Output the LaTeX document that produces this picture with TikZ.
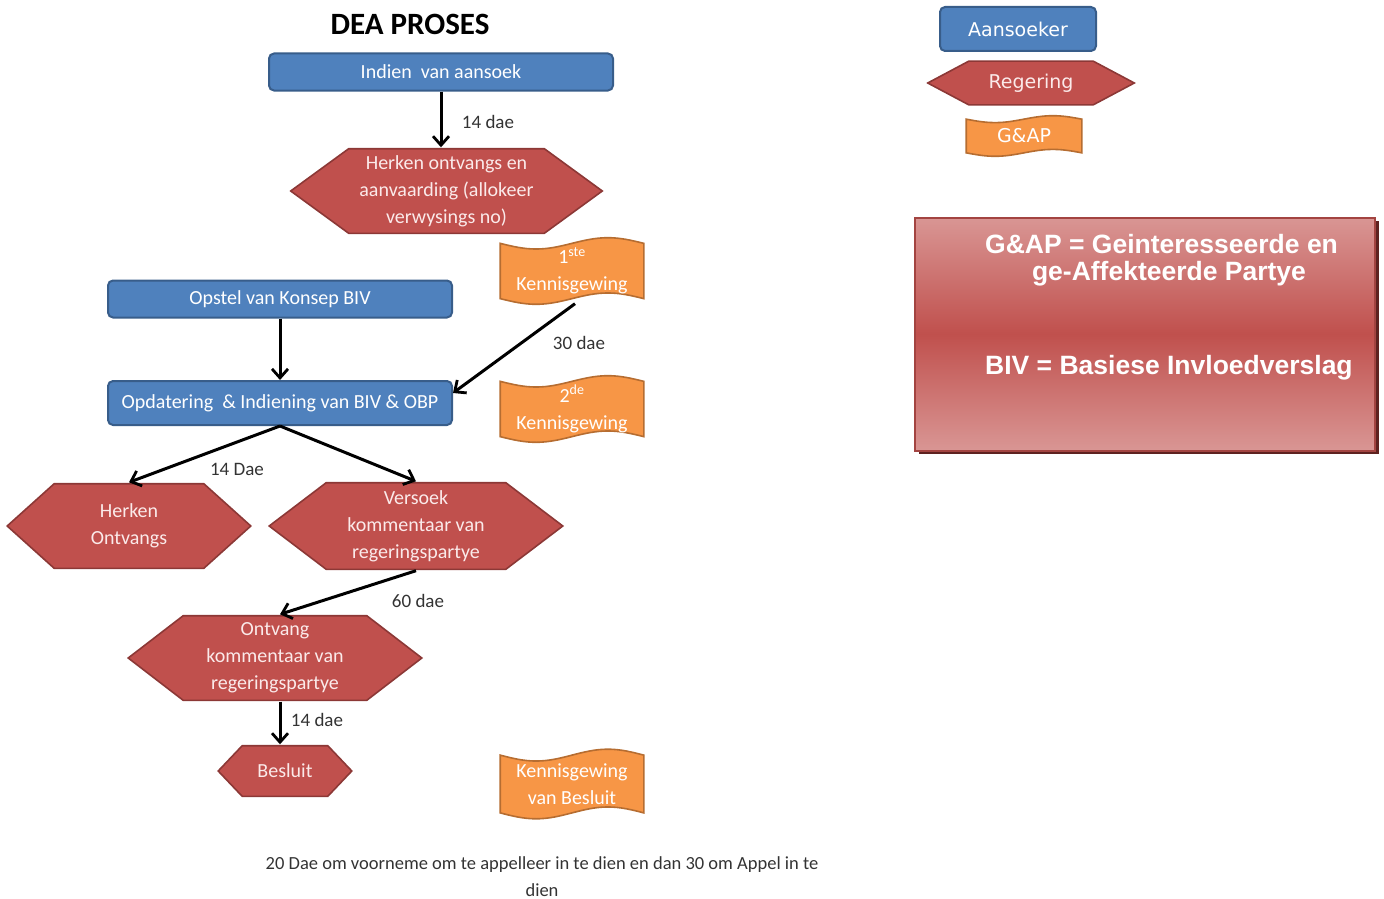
\documentclass[tikz,border=0pt]{standalone}
\usepackage{fontspec}
\setmainfont{Carlito}
\newfontfamily\arialf{Liberation Sans}
\newfontfamily\dejav{DejaVu Sans}
\usetikzlibrary{calc,arrows.meta}
\definecolor{blueF}{HTML}{4F81BD}
\definecolor{blueD}{HTML}{385D8A}
\definecolor{redF}{HTML}{C0504D}
\definecolor{redD}{HTML}{8C3836}
\definecolor{orF}{HTML}{F79646}
\definecolor{orD}{HTML}{B66D31}
\definecolor{legL}{HTML}{D99694}
\definecolor{legS}{HTML}{5E2220}
\definecolor{lbl}{HTML}{333333}
\definecolor{pinkw}{HTML}{FBEAEA}
\tikzset{
  hexinset/.store in=\hexinset, hexinset=50,
  txt/.style={font=\fontsize{20}{27}\selectfont, text=white, align=center, inner sep=0pt},
  bluebox/.style={txt, rectangle, rounded corners=5pt, fill=blueF, draw=blueD, line width=2pt},
  hexbox/.style={txt, text=pinkw, rectangle, draw=none,
    path picture={
      \draw[fill=redF, draw=redD, line width=1.6pt]
        let \p1=([shift={(1.2pt,1.2pt)}]path picture bounding box.south west),
            \p2=([shift={(-1.2pt,-1.2pt)}]path picture bounding box.north east) in
        (\x1,{(\y1+\y2)/2}) -- (\x1+\hexinset pt,\y2) -- (\x2-\hexinset pt,\y2)
        -- (\x2,{(\y1+\y2)/2}) -- (\x2-\hexinset pt,\y1) -- (\x1+\hexinset pt,\y1) -- cycle;
    }},
  wavebox/.style={txt, rectangle, draw=none,
    path picture={
      \draw[fill=orF, draw=orD, line width=1.6pt]
        let \p1=([shift={(1.2pt,1.2pt)}]path picture bounding box.south west),
            \p2=([shift={(-1.2pt,-1.2pt)}]path picture bounding box.north east),
            \n1={\x2-\x1}, \n2={0.085*(\y2-\y1)} in
        (\x1,\y2-\n2) sin (\x1+0.25*\n1,\y2-2*\n2) cos (\x1+0.5*\n1,\y2-\n2)
        sin (\x1+0.75*\n1,\y2) cos (\x2,\y2-\n2) -- (\x2,\y1+\n2)
        sin (\x1+0.75*\n1,\y1+2*\n2) cos (\x1+0.5*\n1,\y1+\n2)
        sin (\x1+0.25*\n1,\y1) cos (\x1,\y1+\n2) -- cycle;
    }},
  arr/.style={-{Straight Barb[length=9pt,width=16pt,line width=2.8pt]}, line width=3pt, black},
  lab/.style={font=\fontsize{19}{22}\selectfont, text=lbl, inner sep=0pt},
  keyfont/.style={font=\dejav\fontsize{19}{22}\selectfont},
  legtxt/.style={font=\arialf\bfseries\fontsize{26.5}{30}\selectfont, text=white, inner sep=0pt}
}
\begin{document}
\begin{tikzpicture}[x=1pt,y=-1pt]
\useasboundingbox (0,0) rectangle (1384,899);

% title
\node[font=\bfseries\fontsize{31}{34}\selectfont, inner sep=0pt] (title) at (410,24) {DEA PROSES};

% main flow
\node[bluebox, minimum width=344pt, minimum height=37pt] (ind) at (441,72) {Indien\ \ van aansoek};
\node[hexbox, hexinset=58, minimum width=314pt, minimum height=87pt] (hx1) at (446.5,191) {Herken ontvangs en\\aanvaarding (allokeer\\verwysings no)};
\node[wavebox, minimum width=146pt, minimum height=69pt] (k1) at (572,271) {1\textsuperscript{ste}\\Kennisgewing};
\node[bluebox, minimum width=344pt, minimum height=37pt] (ops) at (280,299) {Opstel van Konsep BIV};
\node[bluebox, minimum width=344pt, minimum height=44pt] (opd) at (280,403) {Opdatering\ \ \& Indiening van BIV \& OBP};
\node[wavebox, minimum width=146pt, minimum height=69pt] (k2) at (572,409) {2\textsuperscript{de}\\Kennisgewing};
\node[hexbox, hexinset=47, minimum width=246pt, minimum height=87pt] (her) at (129,526) {Herken\\Ontvangs};
\node[hexbox, hexinset=57, minimum width=296pt, minimum height=89pt] (ver) at (416,526) {Versoek\\kommentaar van\\regeringspartye};
\node[hexbox, hexinset=55, minimum width=296pt, minimum height=87pt] (ont) at (275,658) {Ontvang\\kommentaar van\\regeringspartye};
\node[hexbox, hexinset=24, minimum width=136pt, minimum height=53pt] (bes) at (285,771) {Besluit};
\node[wavebox, minimum width=146pt, minimum height=72pt] (k3) at (572,784) {Kennisgewing\\van Besluit};

% connectors
\draw[arr] (ind.south) -- (ind.south |- hx1.north);
\draw[arr] (ops.south) -- (opd.north);
\draw[arr] ([xshift=3pt,yshift=2pt]k1.south) -- ([yshift=10pt]opd.east);
\draw[arr] (opd.south) -- (her.north);
\draw[arr] (opd.south) -- (ver.north);
\draw[arr] (ver.south) -- ([xshift=5pt]ont.north);
\draw[arr] ([xshift=5pt]ont.south) -- ([xshift=-5pt]bes.north);

% labels
\node[lab] (l1) at (488,122) {14 dae};
\node[lab] (l2) at (579,343) {30 dae};
\node[lab] (l3) at (237,469) {14 Dae};
\node[lab] (l4) at (418,601) {60 dae};
\node[lab] (l5) at (317,720) {14 dae};
\node[lab, align=center, font=\fontsize{18.5}{27}\selectfont] (note) at (542,877) {20 Dae om voorneme om te appelleer in te dien en dan 30 om Appel in te\\dien};

% key
\node[bluebox, keyfont, minimum width=156pt, minimum height=44pt] (kaan) at (1018,29) {Aansoeker};
\node[hexbox, hexinset=41, keyfont, minimum width=209pt, minimum height=46pt] (kreg) at (1031,83) {Regering};
\node[wavebox, keyfont, minimum width=118pt, minimum height=43pt] (kga) at (1024,136) {G\&AP};

% legend box
\fill[legS] (919,221) rectangle (1379,454);
\node[rectangle, draw=redF!85!black, line width=2pt, top color=legL, bottom color=legL, middle color=redF, minimum width=460pt, minimum height=233pt, inner sep=0pt] (leg) at (1145,334) {};
\node[legtxt, anchor=west] (lt1) at (985,244) {G\&AP = Geinteresseerde en};
\node[legtxt] (lt2) at (1169,274) {ge-Affekteerde Partye};
\node[legtxt, anchor=west] (lt3) at (985,368) {BIV = Basiese Invloedverslag};
\end{tikzpicture}
\end{document}
